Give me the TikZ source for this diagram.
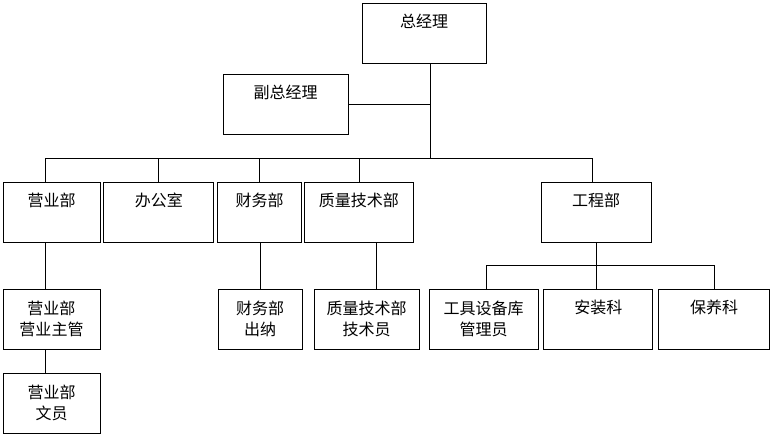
\documentclass[tikz,border=0pt]{standalone}
\usepackage{fontspec}
\setmainfont{Noto Sans CJK SC}
\usetikzlibrary{positioning}

\begin{document}
\begin{tikzpicture}[x=1pt, y=-1pt, line width=0.8pt,
    box/.style={draw, rectangle, minimum height=60pt, inner sep=2pt, align=center, font=\fontsize{16}{21}\selectfont},
    oneline/.style={text depth=25pt}]
    \useasboundingbox (0,0) rectangle (770,435);

    % Management
    \node[box, oneline, minimum width=124pt] (zjl) at (424,33) {总经理};
    \node[box, oneline, minimum width=125pt] (fzjl) at (285.5,104.5) {副总经理};

    % Departments
    \node[box, oneline, minimum width=97pt] (yyb) at (51.5,212) {营业部};
    \node[box, oneline, minimum width=110pt, right=3pt of yyb] (bgs) {办公室};
    \node[box, oneline, minimum width=84pt, right=3pt of bgs] (cwb) {财务部};
    \node[box, oneline, minimum width=109pt, right=2pt of cwb] (zlb) {质量技术部};
    \node[box, oneline, minimum width=110pt] (gcb) at (596,212) {工程部};

    % Staff
    \node[box, minimum width=97pt] (yyzg) at (51.5,319) {营业部\\营业主管};
    \node[box, minimum width=97pt] (yywy) at (51.5,403) {营业部\\文员};
    \node[box, minimum width=84pt] (cwcn) at (260,319) {财务部\\出纳};
    \node[box, minimum width=105pt] (jsy) at (366.5,319) {质量技术部\\技术员};
    \node[box, minimum width=109pt] (gjy) at (483.5,319) {工具设备库\\管理员};
    \node[box, oneline, minimum width=109pt, right=5pt of gjy] (azk) {安装科};
    \node[box, oneline, minimum width=111pt, right=5pt of azk] (byk) {保养科};

    % Lines
    \coordinate (bus) at (0,158);
    \coordinate (sub) at (0,265);
    \coordinate (zjlout) at ([xshift=6pt]zjl.south);
    \coordinate (yybin) at ([xshift=-6.5pt]yyb.north);
    \coordinate (gcbin) at ([xshift=-4pt]gcb.north);
    \coordinate (jsyin) at ([xshift=10pt]jsy.north);
    \coordinate (gjyin) at ([xshift=3pt]gjy.north);
    \draw (zjlout) -- (zjlout |- bus);
    \draw (fzjl.east) -- (fzjl.east -| zjlout);
    \draw (yybin) |- (gcbin |- bus) -- (gcbin);
    \foreach \n in {bgs,cwb,zlb}
        \draw (\n.north) -- (\n.north |- bus);
    \draw ([xshift=-6.5pt]yyb.south) -- ([xshift=-6.5pt]yyzg.north);
    \draw ([xshift=-6.5pt]yyzg.south) -- ([xshift=-6.5pt]yywy.north);
    \draw (cwcn.north) -- (cwb.south -| cwcn.north);
    \draw (jsyin) -- (zlb.south -| jsyin);
    \draw (gcb.south) -- (gcb.south |- azk.north);
    \draw (gjyin) |- (byk.north |- sub) -- (byk.north);
\end{tikzpicture}
\end{document}
